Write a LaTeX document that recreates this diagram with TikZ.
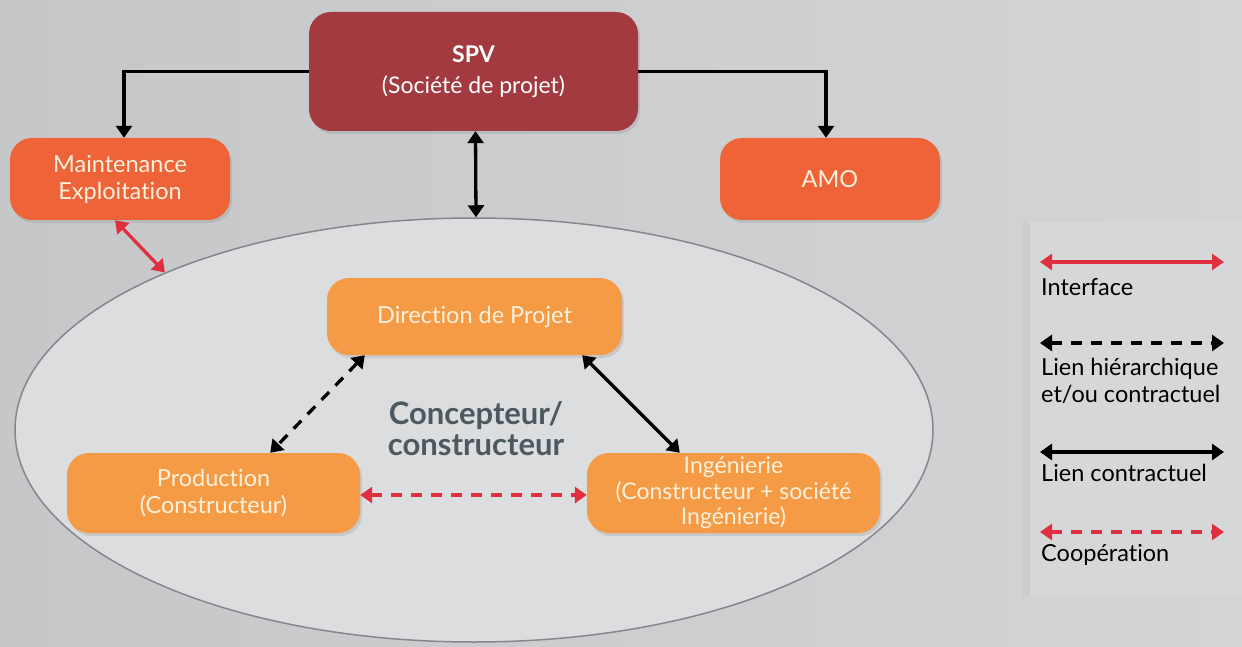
\documentclass[tikz,border=0pt]{standalone}
\usepackage{fontspec}
\setmainfont{Lato}[Ligatures=NoCommon]
\usetikzlibrary{arrows.meta,shapes.geometric,shadows}
\definecolor{bgL}{HTML}{C6C7C9}
\definecolor{bgR}{HTML}{D3D4D6}
\definecolor{spvred}{HTML}{A23A40}
\definecolor{tomato}{HTML}{EE6438}
\definecolor{lorange}{HTML}{F59B45}
\definecolor{cream}{HTML}{FFF0DC}
\definecolor{ellfill}{HTML}{DCDDDF}
\definecolor{ellline}{HTML}{85878A}
\definecolor{slate}{HTML}{4C5960}
\definecolor{arrred}{HTML}{E0303F}
\definecolor{legfill}{HTML}{D6D7D9}
\tikzset{
  box/.style={rounded corners=22pt, inner sep=0pt, align=center,
    drop shadow={opacity=0.22, shadow xshift=2pt, shadow yshift=-3pt},
    font=\fontsize{23.5}{27}\selectfont},
  redbox/.style={box, fill=spvred, text=white, font=\fontsize{23}{31}\selectfont},
  tombox/.style={box, fill=tomato, text=cream},
  orbox/.style={box, fill=lorange, text=cream},
  blk/.style={draw=black, line width=3.3pt},
  tipk/.style={{Triangle[width=16pt,length=12pt]}-{Triangle[width=16pt,length=12pt]}},
  tipone/.style={-{Triangle[width=16pt,length=12pt]}},
  redln/.style={draw=arrred, line width=3.3pt},
  dsh/.style={dash pattern=on 11pt off 9pt},
  legtxt/.style={anchor=north west, inner sep=0pt, align=left, font=\fontsize{23.5}{26.5}\selectfont}
}
\begin{document}
\begin{tikzpicture}[x=1pt,y=-1pt]
\useasboundingbox (0,0) rectangle (1242,647);
\shade[left color=bgL, right color=bgR] (0,0) rectangle (1242,647);
% legend panel
\fill[legfill] (1022,222) rectangle (1242,597);
\fill[bgL!90!black, opacity=0.25] (1022,222) rectangle (1030,597);
% ellipse
\node[ellipse, draw=ellline, line width=1.5pt, fill=ellfill, minimum width=918pt, minimum height=424pt, inner sep=0pt] (ell) at (474,430) {};
\node[font=\fontsize{31}{31}\selectfont\bfseries, text=slate, align=center] (cc) at (476,429) {Concepteur/\\constructeur};
% boxes
\node[redbox, minimum width=329pt, minimum height=119pt] (spv) at (473.5,71.5) {\textbf{SPV}\\(Société de projet)};
\node[tombox, minimum width=220pt, minimum height=82pt] (maint) at (120,179) {Maintenance\\Exploitation};
\node[tombox, minimum width=220pt, minimum height=82pt] (amo) at (830,179) {AMO};
\node[orbox, minimum width=295pt, minimum height=77pt] (dir) at (474.5,316.5) {Direction de Projet};
\node[orbox, minimum width=293pt, minimum height=80pt] (prod) at (213.5,493) {Production\\(Constructeur)};
\node[orbox, minimum width=293pt, minimum height=80pt, font=\fontsize{23}{25.5}\selectfont] (ing) at (733.5,493) {Ingénierie\\(Constructeur + société\\Ingénierie)};
% connectors
\draw[blk, tipone] (spv.west) -| ([xshift=4pt]maint.north);
\draw[blk, tipone] (spv.east) -| ([xshift=-4pt]amo.north);
\draw[blk, tipk] ([xshift=2pt]spv.south) -- ([xshift=2pt]ell.north);
\draw[redln, tipk, arrred] ([xshift=-5pt]maint.south) -- (ell.153);
\draw[blk, dsh, tipk] ([xshift=38pt]dir.south west) -- ([xshift=-90pt]prod.north east);
\draw[blk, tipk] ([xshift=-40pt]dir.south east) -- ([xshift=93pt]ing.north west);
\draw[redln, dsh, tipk, arrred] ([yshift=-2pt]prod.east) -- ([yshift=-2pt]ing.west);
% legend
\coordinate (l1a) at (1040,262); \coordinate (l1b) at (1224,262);
\coordinate (l2a) at (1040,343); \coordinate (l2b) at (1224,343);
\coordinate (l3a) at (1040,452); \coordinate (l3b) at (1224,452);
\coordinate (l4a) at (1040,532); \coordinate (l4b) at (1224,532);
\draw[redln, tipk, arrred] (l1a) -- (l1b);
\draw[blk, dsh, tipk] (l2a) -- (l2b);
\draw[blk, tipk] (l3a) -- (l3b);
\draw[redln, dsh, tipk, arrred] (l4a) -- (l4b);
\node[legtxt] (t1) at (1041,278) {Interface};
\node[legtxt] (t2) at (1041,358) {Lien hiérarchique\\et/ou contractuel};
\node[legtxt] (t3) at (1041,464) {Lien contractuel};
\node[legtxt] (t4) at (1041,544) {Coopération};
\end{tikzpicture}
\end{document}
